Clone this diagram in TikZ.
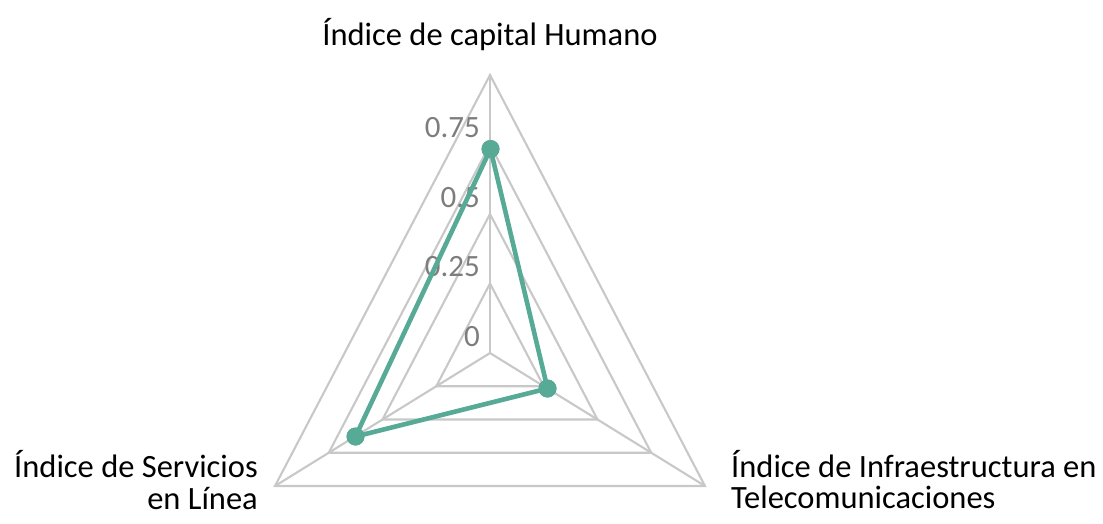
\documentclass[tikz,border=0pt]{standalone}
\usepackage{fontspec}
\setmainfont{Carlito}
\definecolor{gridgray}{RGB}{200,200,200}
\definecolor{tickgray}{RGB}{125,125,125}
\definecolor{teal1}{RGB}{86,170,150}
\begin{document}
\begin{tikzpicture}[x=1pt,y=-1pt,
  grid/.style={draw=gridgray,line width=2.1pt,line join=miter},
  ticklbl/.style={text=tickgray,font=\fontsize{31}{31}\selectfont,anchor=base east,inner sep=0pt},
  axlbl/.style={text=black,font=\fontsize{32.5}{32.5}\selectfont,inner sep=0pt},
  dot/.style={circle,fill=teal1,minimum size=18pt,inner sep=0pt},
  series/.style={draw=teal1,line width=4.6pt,line join=round}]
\useasboundingbox (0,0) rectangle (1103,523);
\coordinate (C) at (490,353);
% rings
\foreach \k in {1,...,4}{
  \draw[grid] (490,{353-69.5*\k}) -- ({490+53.75*\k},{353+33.25*\k}) -- ({490-53.75*\k},{353+33.25*\k}) -- cycle;
}
\coordinate (OT) at (490,75);
\coordinate (OR) at (705,486);
\coordinate (OL) at (275,486);
\draw[grid] (C) -- (OT);
\draw[grid] (C) -- (OR);
\draw[grid] (C) -- (OL);
% tick labels
\node[ticklbl] (t0) at (480,346) {0};
\node[ticklbl] (t1) at (480,276) {0.25};
\node[ticklbl] (t2) at (480,207) {0.5};
\node[ticklbl] (t3) at (480,137) {0.75};
% series
\node[dot] (pT) at (490.5,149) {};
\node[dot] (pR) at (547.5,388.5) {};
\node[dot] (pL) at (355.5,436.5) {};
\draw[series] (pT.center) -- (pR.center) -- (pL.center) -- cycle;
\node[dot] at (pT) {};
\node[dot] at (pR) {};
\node[dot] at (pL) {};
% axis labels
\node[axlbl,anchor=base] (lT) at (490,45) {Índice de capital Humano};
\node[axlbl,anchor=base east] (lL1) at (258,477) {Índice de Servicios};
\node[axlbl,anchor=base east] (lL2) at (258,509) {en Línea};
\node[axlbl,anchor=base west] (lR1) at (731,477) {Índice de Infraestructura en};
\node[axlbl,anchor=base west] (lR2) at (731,508) {Telecomunicaciones};
\end{tikzpicture}
\end{document}
